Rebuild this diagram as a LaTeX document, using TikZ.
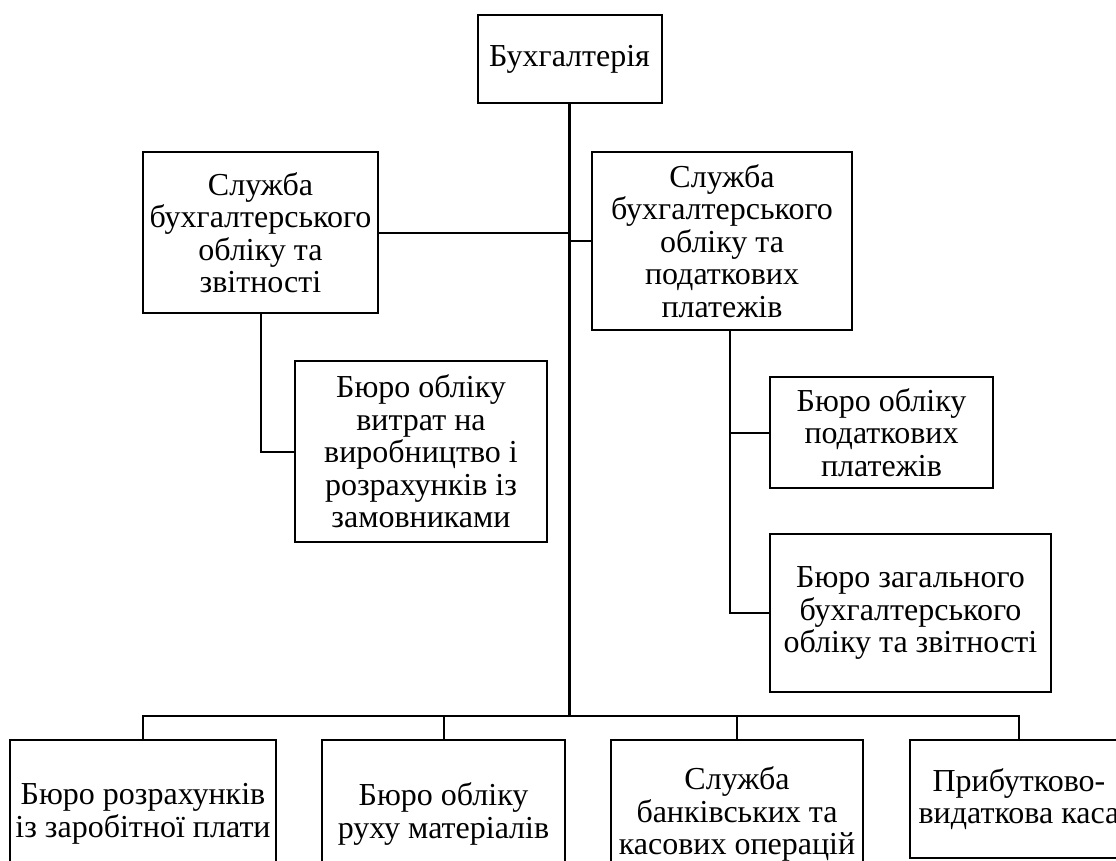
\documentclass[tikz,border=0pt]{standalone}
\usepackage{fontspec}
\setmainfont{Liberation Serif}
\begin{document}
\begin{tikzpicture}[x=1pt,y=-1pt,
  bx/.style={draw, line width=2pt, inner sep=0pt, align=center, font=\fontsize{32}{32.5}\selectfont},
  ln/.style={line width=2pt},
  mainln/.style={line width=3pt}]
\useasboundingbox (0,0) rectangle (1116,861);
\clip (0,0) rectangle (1116,861);
\node[bx, minimum width=184pt, minimum height=88pt] (top) at (569.5,59) {Бухгалтерія};
\node[bx, minimum width=235pt, minimum height=161pt] (ls) at (260.5,232.5) {Служба\\бухгалтерського\\обліку та\\звітності};
\node[bx, minimum width=260pt, minimum height=178pt] (rs) at (722,241) {Служба\\бухгалтерського\\обліку та\\податкових\\платежів};
\node[bx, minimum width=252pt, minimum height=181pt] (lc) at (421,451.5) {Бюро обліку\\витрат на\\виробництво і\\розрахунків із\\замовниками};
\node[bx, minimum width=223pt, minimum height=111pt] (rc1) at (881.5,432.5) {Бюро обліку\\податкових\\платежів};
\node[bx, minimum width=281pt, minimum height=158pt] (rc2) at (910.5,613) {Бюро загального\\бухгалтерського\\обліку та звітності};
\node[bx, minimum width=266pt, minimum height=148pt] (b1) at (143,814) {Бюро розрахунків\\із заробітної плати};
\node[bx, minimum width=243pt, minimum height=148pt] (b2) at (443.5,814) {Бюро обліку\\руху матеріалів};
\node[bx, minimum width=252pt, minimum height=148pt] (b3) at (737,814) {Служба\\банківських та\\касових операцій};
\node[bx, minimum width=218pt, minimum height=118pt] (b4) at (1019,799) {Прибутково-\\видаткова каса};
% junctions
\coordinate (bus) at (569.5,717);
\coordinate (rj) at (730,330);
% main trunk
\draw[mainln] (top.south) -- (bus);
\draw[ln] (ls.east) -- (ls.east -| bus);
\draw[ln] (rs.west) -- (rs.west -| bus);
% left sub-branch
\draw[ln] (ls.south) |- (lc.west);
% right sub-branches
\draw[ln] (rj) |- (rc1.west);
\draw[ln] (rj) |- (rc2.west);
% bottom bus
\draw[ln] (b1.north) -- ++(0,-23) -| (b4.north);
\draw[ln] (b2.north) -- (b2.north |- bus);
\draw[ln] (b3.north) -- (b3.north |- bus);
\end{tikzpicture}
\end{document}
